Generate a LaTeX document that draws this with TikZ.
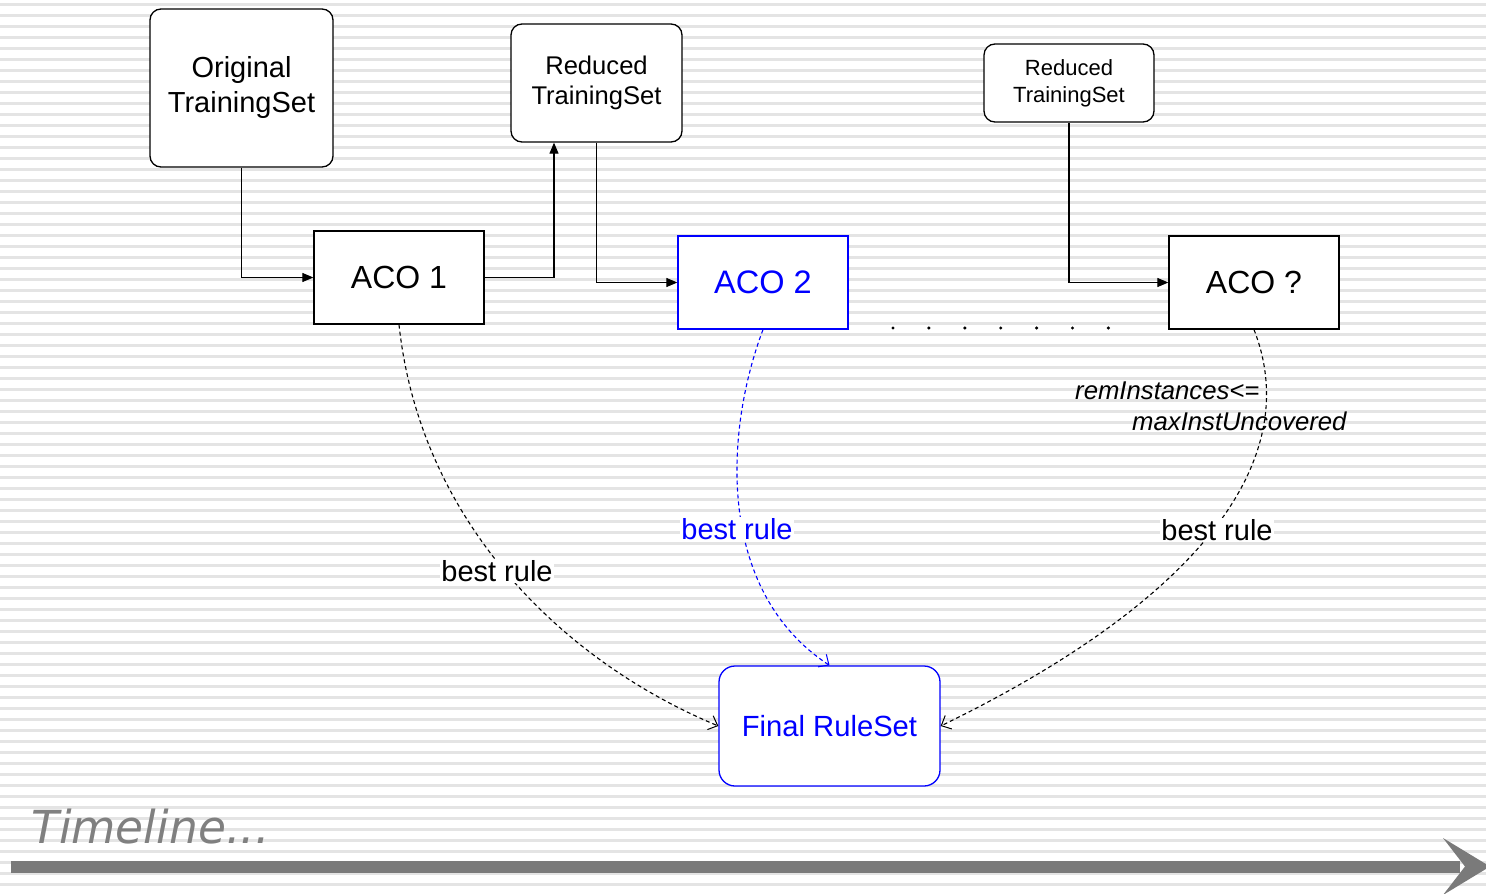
\documentclass[tikz,border=0pt]{standalone}
\usepackage{fontspec}
\setmainfont{Liberation Sans}
\newfontfamily\tlfont{DejaVu Sans}
\usetikzlibrary{arrows.meta,calc}
\definecolor{stripe}{HTML}{E4E4E4}
\definecolor{tlgray}{HTML}{7A7A7A}
\definecolor{tltext}{HTML}{808080}
\definecolor{pblue}{RGB}{0,0,255}
\tikzset{
  box/.style={draw=black,fill=white,line width=1.3pt,inner sep=0pt,align=center},
  rbox/.style={box,rounded corners=11pt},
  conn/.style={line width=1.1pt,-{Triangle[length=11pt,width=9pt]}},
  dconn/.style={line width=1.1pt,dash pattern=on 4pt off 3pt,-{Straight Barb[length=8pt,width=15pt,line width=1pt]}},
  lbl/.style={fill=white,inner sep=1.5pt,font=\fontsize{29}{34}\selectfont},
  cond/.style={anchor=base west,inner sep=0pt,font=\fontsize{25.7}{30}\selectfont\itshape},
}
\begin{document}
\begin{tikzpicture}[x=1pt,y=-1pt]
\useasboundingbox (0,0) rectangle (1486,894);
\fill[white] (0,0) rectangle (1486,894);
\foreach \k in {0,...,81} {
  \fill[stripe] (0,{3.3+11*\k}) rectangle (1486,{5.8+11*\k});
}
% nodes
\node[rbox,minimum width=183pt,minimum height=158pt,font=\fontsize{29}{35}\selectfont] (orig) at (241.5,88) {Original\\TrainingSet};
\node[box,minimum width=170pt,minimum height=93pt,font=\fontsize{32}{38}\selectfont] (aco1) at (399,277.5) {ACO 1};
\node[rbox,minimum width=171pt,minimum height=118pt,font=\fontsize{25.6}{29.5}\selectfont] (red1) at (596.5,83) {Reduced\\TrainingSet};
\node[box,draw=pblue,text=pblue,minimum width=170pt,minimum height=93pt,font=\fontsize{32.5}{38}\selectfont] (aco2) at (763,282.5) {ACO 2};
\node[rbox,minimum width=170pt,minimum height=78pt,font=\fontsize{22}{27}\selectfont] (red2) at (1069,83) {Reduced\\TrainingSet};
\node[box,minimum width=170pt,minimum height=93pt,font=\fontsize{32}{38}\selectfont] (acoq) at (1254,282.5) {ACO ?};
\node[box,rounded corners=16pt,draw=pblue,text=pblue,minimum width=221pt,minimum height=120pt,font=\fontsize{29.2}{35}\selectfont] (final) at (829.5,726) {Final RuleSet};
% solid connectors
\draw[conn] (orig.south) |- (aco1.west);
\draw[conn] (aco1.east) -| ([xshift=-42.5pt]red1.south);
\draw[conn] (red1.south) |- (aco2.west);
\draw[conn] (red2.south) |- (acoq.west);
% dashed connectors
\draw[dconn] (aco1.south) .. controls (420,520) and (560,660) .. (final.west);
\draw[dconn,draw=pblue] (aco2.south) .. controls (725,430) and (715,590) .. (final.north);
\draw[dconn] (acoq.south) .. controls (1305,460) and (1200,600) .. (final.east);
% labels
\node[lbl] (l1) at (497,571) {best rule};
\node[lbl,text=pblue] (l2) at (737,529) {best rule};
\node[lbl] (l3) at (1217,530) {best rule};
\node[cond] (c1) at (1075,399) {remInstances<=};
\node[cond] (c2) at (1132,430) {maxInstUncovered};
% dots
\foreach \i in {0,...,6} {
  \fill (893+35.9*\i,328) circle (1.7pt);
}
% timeline
\node[anchor=base west,inner sep=0pt,text=tltext,font=\tlfont\itshape\fontsize{45.5}{50}\selectfont] (tl) at (31,843) {Timeline...};
\fill[tlgray] (11,861) rectangle (1460,872.5);
\fill[tlgray] (1443,838) -- (1490,866.5) -- (1443,895) -- (1465,866.5) -- cycle;
\end{tikzpicture}
\end{document}
